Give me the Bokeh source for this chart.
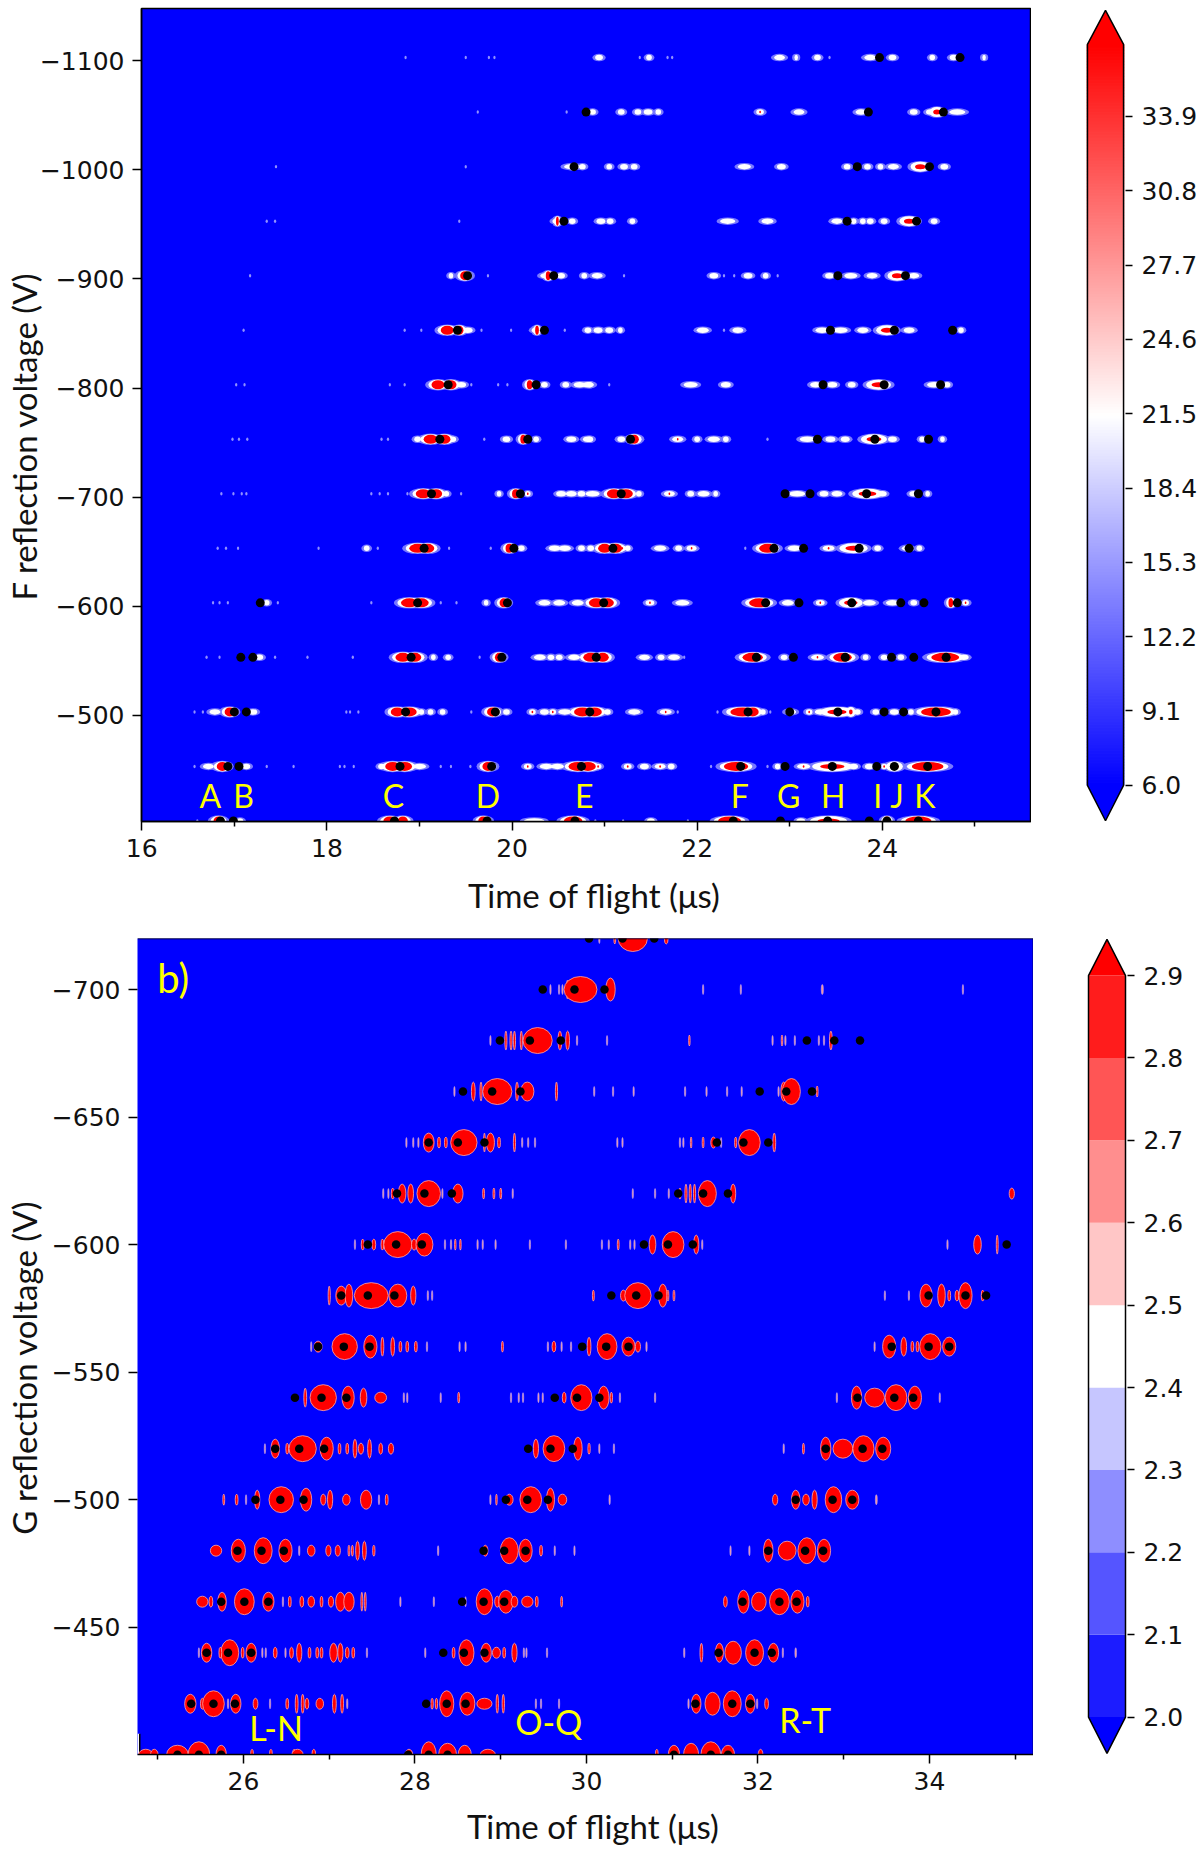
import numpy as np
from bokeh.plotting import figure
from bokeh.layouts import column, row
from bokeh.models import Range1d, FixedTicker, Label, Span
from bokeh.embed import file_html
from bokeh.resources import INLINE

# ---------- panel a: rows of peaks (time of flight, width, kind 3 red / 4 slim red / 2 white with red eye / 1 white)
rows_a = [-403,-453,-503,-553,-603,-653,-703,-753,-803,-853,-903,-953,-1003,-1053,-1103]
a403 = [(16.83,.11,3),(17.06,.05,1),(18.68,.14,3),(18.82,.11,3),(19.69,.11,3),(20.24,.18,1),(20.66,.2,3),(21.5,.06,1),(22.35,.25,3),(23.12,.07,1),(23.42,.3,4),(24.05,.07,3),(24.39,.28,3)]
a453 = [(16.87,.12,3),(18.71,.16,3),(18.84,.16,3),(19.74,.12,3),(20.71,.2,3),(20.82,.17,3),(22.42,.26,3),(23.46,.33,4),(24.13,.12,4),(24.49,.34,3),
        (16.72,.09,1),(17.13,.06,1),(18.59,.05,1),(19.0,.11,1),(20.17,.06,2),(20.37,.11,1),(20.49,.11,1),(20.93,.05,2),(21.25,.06,2),(21.43,.07,1),(21.6,.09,2),(21.72,.05,1),(22.87,.04,1),(23.15,.11,2),(23.69,.07,1),(23.86,.07,1),(24.02,.04,2)]
a503 = [(16.95,.11,3),(18.76,.14,3),(18.89,.16,3),(19.79,.12,3),(20.76,.18,3),(20.89,.16,3),(22.49,.26,3),(22.6,.13,3),(23.51,.26,4),(23.66,.05,4),(24.58,.32,3),
        (16.79,.09,1),(17.2,.07,1),(19.02,.04,1),(19.12,.04,1),(19.25,.04,1),(19.94,.05,1),(20.22,.05,2),(20.35,.07,1),(20.44,.05,2),(20.57,.11,1),(21.03,.05,1),(21.32,.1,1),(21.66,.1,2),(22.71,.04,1),(23.01,.09,1),(23.21,.05,2),(23.33,.09,1),(23.73,.05,1),(23.93,.05,1),(24.13,.07,1),(24.31,.04,1),(24.79,.04,1)]
a553 = [(18.82,.16,3),(18.95,.14,3),(19.86,.09,3),(20.85,.16,3),(20.98,.13,3),(22.6,.22,3),(23.57,.2,3),(24.68,.3,3),
        (17.27,.06,1),(19.15,.03,1),(19.31,.04,1),(20.3,.1,1),(20.42,.05,1),(20.51,.05,1),(20.67,.1,1),(21.43,.09,1),(21.61,.05,1),(21.75,.1,1),(22.94,.05,1),(23.3,.11,2),(23.82,.04,1),(24.02,.05,1),(24.2,.05,1),(24.88,.08,1)]
a603 = [(18.89,.18,3),(19.02,.16,3),(19.91,.09,3),(20.91,.16,3),(21.03,.14,3),(22.67,.22,3),(23.66,.18,4),(24.74,.05,3),(24.9,.05,2),
        (17.35,.04,1),(19.72,.03,1),(20.35,.1,1),(20.51,.1,1),(20.71,.1,1),(21.49,.07,2),(21.84,.12,1),(22.98,.1,1),(23.33,.07,2),(23.86,.11,1),(24.11,.11,1),(24.34,.05,1)]
a653 = [(18.98,.18,3),(19.09,.14,3),(19.97,.08,3),(21.0,.14,3),(21.12,.14,3),(22.76,.18,3),(23.69,.22,4),
        (18.43,.04,1),(20.1,.05,1),(20.46,.1,1),(20.57,.1,1),(20.75,.05,1),(20.85,.05,1),(21.25,.04,1),(21.19,.06,2),(21.6,.1,1),(21.8,.05,1),(21.94,.08,2),(23.05,.11,1),(23.42,.1,2),(23.95,.05,1),(24.27,.09,1),(24.4,.04,1)]
a703 = [(19.04,.16,3),(19.18,.13,3),(20.04,.08,3),(21.1,.15,3),(21.23,.15,3),(23.84,.24,4),
        (19.29,.04,1),(19.86,.03,1),(20.17,.04,2),(20.53,.08,1),(20.64,.09,1),(20.75,.06,1),(20.87,.12,1),(21.37,.04,1),(21.7,.09,2),(21.93,.05,1),(22.07,.1,1),(22.2,.03,1),(23.08,.14,1),(23.37,.07,1),(23.51,.09,1),(24.0,.07,1),(24.34,.07,1),(24.49,.03,1)]
a753 = [(19.12,.15,3),(19.27,.13,3),(20.12,.06,3),(21.32,.1,3),(23.91,.2,4),
        (18.98,.05,1),(19.36,.05,1),(19.94,.06,1),(20.26,.04,1),(20.64,.08,1),(20.84,.05,1),(20.82,.08,1),(21.18,.06,1),(21.79,.09,2),(22.0,.04,1),(22.18,.1,1),(22.31,.04,1),(23.19,.13,1),(23.44,.08,1),(23.6,.07,1),(24.11,.07,1),(24.43,.04,1),(24.65,.03,1)]
a803 = [(19.2,.14,3),(19.34,.12,3),(20.19,.06,3),(23.96,.19,4),
        (19.45,.08,1),(20.35,.05,1),(20.58,.05,1),(20.73,.1,1),(20.84,.04,1),(20.82,.1,1),(21.93,.12,1),(22.31,.08,1),(23.28,.09,1),(23.46,.08,1),(23.67,.06,1),(24.56,.12,1),(24.7,.05,1)]
a853 = [(19.3,.14,3),(19.43,.09,3),(20.27,.04,3),(24.05,.16,4),
        (20.26,.07,1),(19.52,.08,1),(20.82,.05,1),(20.93,.07,1),(21.05,.06,1),(21.17,.03,1),(22.06,.1,1),(22.44,.09,1),(23.35,.11,1),(23.55,.12,1),(23.79,.09,1),(24.29,.09,1),(24.85,.04,1)]
a903 = [(19.49,.1,3),(20.39,.05,3),(24.16,.14,4),
        (19.34,.03,1),(20.37,.1,1),(20.53,.06,1),(20.78,.04,1),(20.92,.09,1),(22.18,.07,1),(22.55,.07,1),(22.74,.04,1),(23.43,.07,1),(23.66,.11,1),(23.89,.09,1),(24.34,.09,1)]
a953 = [(20.49,.03,3),(24.29,.14,4),
        (20.49,.08,1),(20.65,.05,1),(20.96,.07,1),(21.06,.05,1),(21.3,.04,1),(22.33,.13,1),(22.76,.1,1),(23.51,.09,1),(23.69,.04,1),(23.79,.04,1),(23.87,.05,1),(24.02,.05,1),(24.56,.05,1)]
a1003 = [(20.64,.02,2),(24.41,.14,4),
        (20.65,.14,1),(20.76,.05,1),(21.05,.04,1),(21.21,.06,1),(21.32,.05,1),(22.51,.11,1),(22.91,.07,1),(23.62,.05,1),(23.84,.05,1),(23.98,.04,1),(24.12,.09,1),(24.67,.06,1)]
a1053 = [(24.59,.1,4),
        (20.87,.05,1),(21.18,.05,1),(21.36,.05,1),(21.47,.07,1),(21.58,.04,1),(22.68,.06,2),(23.1,.09,1),(23.77,.09,1),(24.34,.06,1),(24.52,.07,1),(24.81,.14,1)]
a1103 = [(20.94,.06,1),(21.48,.04,1),(22.89,.09,1),(23.07,.02,1),(23.3,.05,1),(23.87,.1,1),(24.11,.06,1),(24.54,.04,1),(24.77,.06,1),(25.1,.02,1)]
peaks_a = [a403,a453,a503,a553,a603,a653,a703,a753,a803,a853,a903,a953,a1003,a1053,a1103]

faint_a = [
 [16.6,20.9,21.2,21.9],
 [16.57,16.65,17.35,17.64,18.14,18.19,18.29,19.23,19.34,19.55,22.15,22.76,24.74],
 [16.57,16.66,18.21,18.25,18.34,19.56,21.79,22.22,22.79],
 [16.7,16.84,17.44,17.79,18.28,19.65,21.86],
 [16.77,16.84,16.93,17.47,18.48,19.23,19.4],
 [16.82,16.91,17.04,17.91,18.55,19.32,19.77,22.52],
 [16.86,16.99,17.08,17.13,18.48,18.57,18.66,18.87,19.45,19.86],
 [16.98,17.05,17.14,18.59,18.66,19.7,22.76],
 [17.02,17.11,18.68,18.84,19.56,19.85,19.95,21.05],
 [17.1,18.84,19.02,19.67,19.99,20.57,22.29],
 [17.17,19.74,20.78,21.21,22.29,22.4,22.87],
 [17.35,17.44,19.43],
 [17.45,19.5],
 [19.63,20.59],
 [18.85,19.5,19.75,19.81,21.38,21.68,21.73,23.43],
]
dots_a = [
 [16.85,16.99,18.73,19.73,20.68,22.39,22.9,23.41,23.86,24.05,24.39],
 [16.93,17.05,18.79,19.78,20.75,22.47,22.95,23.46,23.94,24.13,24.49],
 [17.0,17.13,18.85,19.82,20.84,22.55,23.0,23.52,24.02,24.23,24.58],
 [17.07,17.2,18.91,19.89,20.91,22.64,23.04,23.6,24.1,24.34,24.69],
 [17.28,18.98,19.95,20.99,22.74,23.1,23.67,24.2,24.45,24.81],
 [19.05,20.02,21.09,22.83,23.15,23.75,24.29],
 [19.13,20.09,21.18,22.95,23.22,23.83,24.39],
 [19.22,20.17,21.28,23.3,23.92,24.5],
 [19.31,20.26,23.36,24.02,24.63],
 [19.41,20.35,23.44,24.13,24.76],
 [19.52,20.45,23.52,24.25],
 [20.56,23.62,24.37],
 [20.67,23.73,24.51],
 [20.8,23.85,24.66],
 [23.97,24.84],
]

# ---------- panel b: peaks (time of flight, width, height class 4 large ... 0 hairline)
rows_b = [-400,-420,-440,-460,-480,-500,-520,-540,-560,-580,-600,-620,-640,-660,-680,-700,-720]
H = .016
b400 = [(24.86,.15,1),(24.96,.08,1),(25.23,.23,2),(25.48,.23,4),(25.74,.11,2),(26.1,.03,1),(26.32,.03,1),(26.59,.03,1),(26.63,.12,1),(26.82,.04,1),(27.93,.08,1),(28.16,.16,4),(28.38,.19,3),(28.58,.14,2),(28.85,.16,1),(30.82,.03,1),(31.02,.12,2),(31.22,.16,3),(31.45,.21,4),(31.65,.14,2),(32.03,.05,1)]
b420 = [(25.38,.12,2),(25.52,.04,1),(25.65,.23,4),(25.91,.11,2),(25.82,H,0),(26.14,.05,1),(26.31,H,0),(26.51,.03,1),(26.62,.03,2),(26.69,.03,2),(26.74,.04,1),(26.89,.08,1),(27.06,.04,2),(27.15,.03,2),(27.21,H,0),(28.2,.025,1),(28.25,.025,1),(28.37,.15,4),(28.61,.16,3),(28.81,.16,1),(28.96,.025,2),(29.03,.025,2),(29.41,H,0),(29.47,H,0),(29.68,H,0),(31.19,H,0),(31.28,.1,2),(31.47,.16,3),(31.7,.19,4),(31.91,.1,2),(31.99,H,0),(32.1,.04,1)]
b440 = [(25.57,.11,2),(25.84,.19,4),(26.09,.11,2),(25.99,.03,1),(25.73,.03,1),(25.48,H,0),(26.22,H,0),(26.26,H,0),(26.37,.04,1),(26.49,H,0),(26.56,.04,1),(26.65,.055,2),(26.77,.03,1),(26.86,.03,1),(26.91,.03,1),(27.05,.08,2),(27.13,.055,2),(27.21,.04,1),(27.28,.03,1),(27.44,H,0),(28.12,H,0),(28.45,.03,1),(28.6,.16,4),(28.83,.11,2),(28.95,.085,1),(29.04,.03,1),(29.16,.055,2),(29.27,H,0),(29.3,H,0),(29.54,H,0),(31.14,H,0),(31.34,.03,2),(31.55,.085,2),(31.71,.175,3),(31.96,.19,4),(32.18,.11,2),(32.29,H,0),(32.44,.02,0)]
b460 = [(25.52,.12,1),(25.62,.04,1),(25.75,.09,2),(26.01,.21,4),(26.29,.12,2),(26.46,H,0),(26.54,.03,1),(26.68,.04,1),(26.79,.07,1),(26.91,.03,1),(27.02,.055,1),(27.13,.1,2),(27.23,.11,2),(27.38,.02,2),(27.42,.02,2),(27.83,H,0),(28.22,H,0),(28.59,H,0),(28.81,.175,4),(28.96,.055,1),(29.06,.155,3),(29.16,.07,1),(29.31,.12,1),(29.42,.03,1),(29.71,.02,1),(31.62,.04,1),(31.83,.12,3),(32.01,.155,2),(32.25,.21,4),(32.46,.14,3),(32.58,.03,1)]
b480 = [(25.68,.12,1),(25.94,.15,3),(26.23,.19,4),(26.49,.14,3),(26.65,H,0),(26.79,.08,1),(26.99,.055,1),(27.1,.055,1),(27.23,.02,1),(27.27,.02,1),(27.33,.04,2),(27.41,.04,2),(27.52,.025,1),(28.27,H,0),(28.82,.055,1),(29.1,.19,4),(29.29,.14,3),(29.47,.03,1),(29.63,H,0),(29.86,H,0),(31.68,H,0),(31.9,H,0),(32.12,.1,3),(32.34,.19,2),(32.57,.19,4),(32.77,.14,3)]
b500 = [(25.77,.02,1),(25.92,.03,1),(26.03,H,0),(26.16,.055,2),(26.44,.26,4),(26.73,.12,3),(26.93,.055,1),(27.01,.055,2),(27.2,.08,1),(27.43,.12,2),(27.67,.03,1),(27.58,H,0),(28.88,H,0),(28.95,H,1),(29.1,.08,1),(29.35,.23,4),(29.58,.085,3),(29.72,.09,1),(30.27,H,0),(32.2,.055,1),(32.44,.09,2),(32.56,.07,1),(32.66,.055,2),(32.88,.175,4),(33.1,.14,2),(33.38,.023,0)]
b520 = [(26.25,H,0),(26.37,.09,2),(26.51,.03,1),(26.69,.29,4),(26.97,.14,3),(27.12,.03,1),(27.21,.03,1),(27.3,.04,2),(27.37,.055,1),(27.47,.04,2),(27.6,.04,1),(27.72,.055,1),(29.41,.055,2),(29.62,.23,4),(29.9,.09,3),(30.03,.025,1),(30.15,H,0),(30.32,H,0),(32.3,H,0),(32.53,.02,1),(32.79,.11,3),(32.99,.21,2),(33.23,.225,4),(33.46,.16,3)]
b540 = [(26.72,.03,2),(26.93,.28,4),(27.22,.13,3),(27.4,.07,2),(27.6,.125,1),(27.87,H,0),(27.91,H,0),(28.3,H,0),(28.51,.02,1),(29.12,H,0),(29.21,H,0),(29.26,H,0),(29.44,H,0),(29.49,H,0),(29.74,.04,1),(29.94,.225,4),(30.2,.115,3),(30.29,.025,1),(30.39,H,0),(30.8,H,0),(32.92,H,0),(33.15,.11,3),(33.36,.21,2),(33.61,.23,4),(33.83,.14,3),(34.12,H,0)]
b560 = [(26.79,H,0),(26.87,.085,1),(27.18,.27,4),(27.48,.14,3),(27.62,.03,2),(27.74,.04,2),(27.83,.03,1),(27.91,.03,1),(28.01,.03,1),(28.14,H,0),(28.52,H,0),(28.59,H,0),(29.02,.02,1),(29.55,H,0),(29.62,.04,1),(29.71,H,0),(29.82,H,0),(30.03,.04,2),(30.24,.21,4),(30.49,.14,2),(30.6,.055,1),(30.7,H,0),(33.36,H,0),(33.53,.14,3),(33.7,.06,2),(33.8,.03,1),(33.86,.03,1),(34.01,.225,4),(34.23,.14,2)]
b580 = [(27.0,.023,2),(27.14,.115,2),(27.23,.08,3),(27.49,.36,4),(27.8,.19,3),(27.98,.055,2),(28.15,H,0),(28.2,H,0),(30.08,.02,1),(30.43,.06,1),(30.6,.28,4),(30.89,.09,3),(30.95,.02,1),(31.02,.02,1),(33.48,H,0),(33.76,H,0),(33.96,.13,3),(34.14,.08,3),(34.23,.03,1),(34.32,.04,1),(34.42,.14,4),(34.62,.03,1)]
b600 = [(27.3,H,0),(27.39,.03,1),(27.52,.04,1),(27.62,.03,1),(27.8,.3,4),(27.99,.055,1),(28.11,.18,3),(28.35,H,0),(28.42,H,0),(28.47,H,1),(28.53,H,1),(28.73,H,0),(28.79,H,0),(28.94,H,0),(29.34,H,0),(29.76,H,0),(30.18,H,0),(30.26,H,0),(30.37,.02,1),(30.51,H,0),(30.56,H,0),(30.77,.07,2),(31.01,.23,4),(31.28,.055,2),(31.35,H,0),(34.21,H,0),(34.56,.08,2),(34.79,.02,2)]
b620 = [(27.63,H,0),(27.69,H,0),(27.74,.03,1),(27.85,.08,2),(27.95,.06,2),(28.16,.25,4),(28.5,.11,2),(28.32,H,0),(28.8,.02,1),(28.92,.02,1),(29.0,.02,1),(29.14,H,0),(30.54,H,0),(30.8,H,0),(30.96,H,0),(31.09,.02,1),(31.16,.023,2),(31.21,.023,2),(31.26,.023,2),(31.41,.19,4),(31.71,.055,2),(34.96,.055,1)]
b640 = [(27.9,H,0),(27.98,H,0),(28.04,H,0),(28.16,.115,2),(28.28,.03,1),(28.36,.03,1),(28.57,.28,4),(28.81,.02,2),(28.88,.085,2),(28.98,.03,1),(29.16,.023,2),(29.25,H,0),(29.32,H,0),(29.4,H,0),(30.36,H,0),(30.42,H,0),(31.09,H,0),(31.13,H,0),(31.22,.016,1),(31.36,.02,1),(31.48,.055,1),(31.57,H,0),(31.74,.023,1),(31.9,.23,4),(32.19,.03,2)]
b660 = [(28.46,H,0),(28.68,.04,2),(28.77,.023,2),(28.96,.31,4),(29.19,.03,2),(29.31,.14,2),(29.65,.023,2),(30.09,H,0),(30.31,H,0),(30.55,H,0),(31.15,H,0),(31.4,H,0),(31.64,H,0),(31.81,H,0),(32.24,H,0),(32.3,.06,2),(32.39,.19,4),(32.69,.02,1)]
b680 = [(28.88,H,0),(29.06,.023,2),(29.12,.023,2),(29.16,.023,2),(29.24,.023,2),(29.43,.31,4),(29.69,.04,2),(29.78,.04,2),(29.89,H,0),(30.24,H,0),(31.2,.016,1),(32.17,H,0),(32.28,.016,1),(32.32,H,0),(32.43,H,0),(32.71,H,0),(32.77,H,0),(32.85,.03,2)]
b700 = [(29.58,H,0),(29.68,H,0),(29.72,H,0),(29.78,.03,2),(29.93,.35,4),(30.28,.1,3),(31.36,H,0),(31.8,H,0),(32.75,.025,0),(34.39,H,0)]
b720 = [(30.15,H,0),(30.33,.02,1),(30.54,.31,4),(30.93,.04,1)]
peaks_b = [b400,b420,b440,b460,b480,b500,b520,b540,b560,b580,b600,b620,b640,b660,b680,b700,b720]

dots_b = [
 [25.23,25.48,25.74,27.92,28.16,28.38,31.02,31.45,31.65],
 [25.39,25.65,25.9,28.13,28.37,28.59,31.27,31.7,31.91],
 [25.57,25.82,26.09,28.33,28.57,28.81,31.54,31.96,32.16],
 [25.74,26.01,26.29,28.55,28.8,29.04,31.82,32.25,32.45],
 [25.93,26.21,26.47,28.8,29.04,29.29,32.12,32.55,32.76],
 [26.14,26.43,26.7,29.06,29.31,29.55,32.44,32.87,33.1],
 [26.37,26.65,26.94,29.32,29.58,29.84,32.79,33.22,33.45],
 [26.6,26.91,27.2,29.63,29.89,30.15,33.16,33.59,33.81],
 [26.87,27.17,27.47,29.95,30.23,30.49,33.56,33.99,34.23],
 [27.14,27.45,27.76,30.29,30.58,30.84,33.99,34.42,34.66],
 [27.45,27.78,28.08,30.67,30.95,31.24,34.9],
 [27.79,28.11,28.43,31.07,31.36,31.65],
 [28.16,28.5,28.81,31.52,31.83,32.12],
 [28.56,28.9,29.23,32.02,32.33,32.63],
 [28.99,29.34,29.7,32.57,32.89,33.19],
 [29.49,29.86,30.21],
 [30.03,30.42,30.79],
]

# ---------- ticks, labels
x_ticks_a = [16,18,20,22,24]; x_minor_a = [17,19,21,23,25]
y_ticks_a = [-1100,-1000,-900,-800,-700,-600,-500]
x_ticks_b = [26,28,30,32,34]; x_minor_b = [25,27,29,31,33,35]
y_ticks_b = [-700,-650,-600,-550,-500,-450,-400]
cbar_a_ticks = [6.0,9.1,12.2,15.3,18.4,21.5,24.6,27.7,30.8,33.9]
cbar_b_ticks = [2.0,2.1,2.2,2.3,2.4,2.5,2.6,2.7,2.8,2.9]
cbar_b_colors = ["#1c1cff","#5555ff","#8e8eff","#c6c6ff","#ffffff","#ffc6c6","#ff8e8e","#ff5555","#ff1c1c"]
peak_names = ["A","B","C","D","E","F","G","H","I","J","K"]
peak_x = [16.74,17.10,18.72,19.74,20.78,22.46,22.99,23.47,23.95,24.16,24.46]
group_names = ["L-N","O-Q","R-T"]
group_x = [26.38,29.56,32.55]
group_y = [-410.6,-413,-413.7]
xlabel = "Time of flight (\u03bcs)"
ylabel_a = "F reflection voltage (V)"
ylabel_b = "G reflection voltage (V)"

BLUE="#0000ff"; RED="#ff0000"; YEL="#ffff00"; TICK_FONT="DejaVu Sans"; LAB_FONT="Lato"
NB = "\u00a0"

def style_axes(p, xt, xm, yt, xlab, ylab, ystand, xstand):
    p.xaxis.ticker = FixedTicker(ticks=xt, minor_ticks=xm)
    p.yaxis.ticker = FixedTicker(ticks=yt)
    p.yaxis.major_label_overrides = {v: "\u2212%d" % abs(v) for v in yt}
    p.xaxis.major_label_overrides = {v: str(v) for v in xt}
    for ax in (p.xaxis[0], p.yaxis[0]):
        ax.major_label_text_font = TICK_FONT
        ax.major_label_text_font_size = "25px"
        ax.major_label_text_color = "#111111"
        ax.major_tick_out = 9; ax.major_tick_in = 0
        ax.major_tick_line_width = 1.5; ax.major_tick_line_color = "black"
        ax.axis_line_width = 1.5; ax.axis_line_color = "black"
        ax.major_label_standoff = 8
        ax.axis_label_text_font = LAB_FONT
        ax.axis_label_text_font_size = "33px"
        ax.axis_label_text_font_style = "normal"
        ax.axis_label_text_color = "#111111"
    p.xaxis.axis_label = NB*2 + xlab
    p.yaxis.axis_label = ylab + NB*5
    p.yaxis.axis_label_standoff = ystand
    p.xaxis.axis_label_standoff = xstand
    p.xaxis.minor_tick_out = 5; p.xaxis.minor_tick_in = 0
    p.xaxis.minor_tick_line_width = 1.5; p.xaxis.minor_tick_line_color = "black"
    p.yaxis.minor_tick_line_color = None
    p.grid.visible = False
    p.background_fill_color = BLUE

def lab(p, x, y, text, size, color=YEL):
    p.add_layout(Label(x=x, y=y, text=text, text_font=LAB_FONT, text_font_size=size, text_color=color,
                       text_align="center", text_baseline="middle"))

# ---------- panel a
pa = figure(width=1031, height=925, output_backend="svg", toolbar_location=None,
            x_range=Range1d(15.997, 25.612), y_range=Range1d(-402.5, -1148),
            min_border_left=140, min_border_right=0, min_border_top=8, min_border_bottom=104)
style_axes(pa, x_ticks_a, x_minor_a, y_ticks_a, xlabel, ylabel_a, -7, 15)
pa.outline_line_color = "black"; pa.outline_line_width = 1.5

fx,fy=[],[]
for v,ts in zip(rows_a, faint_a):
    fx += ts; fy += [v]*len(ts)
pa.ellipse(fx, fy, width=.025, height=3.5, height_units="screen", fill_color="#9090ff", line_color=None)

def collect(kinds):
    xs,ys,ws=[],[],[]
    for v,pk in zip(rows_a, peaks_a):
        for t,w,k in pk:
            if k in kinds:
                xs.append(t); ys.append(v); ws.append(w)
    return xs,ys,ws

x,y,w = collect((1,2))
pa.ellipse(x, y, width=[i*1.4+.06 for i in w], height=7.5, height_units="screen", fill_color="#7878ff", line_color=None)
x,y,w = collect((3,4))
pa.ellipse(x, y, width=[i*1.4+.08 for i in w], height=11.5, height_units="screen", fill_color="#7878ff", line_color=None)
x,y,w = collect((1,2))
pa.ellipse(x, y, width=[i*1.15+.015 for i in w], height=5.5, height_units="screen", fill_color="#ffffff", line_color=None)
x,y,w = collect((3,4))
pa.ellipse(x, y, width=[i*1.2+.04 for i in w], height=10, height_units="screen", fill_color="#ffffff", line_color=None)
x,y,w = collect((2,))
pa.ellipse(x, y, width=.018, height=2.5, height_units="screen", fill_color=RED, line_color=None)
x,y,w = collect((4,))
pa.ellipse(x, y, width=[i*.8 for i in w], height=5, height_units="screen", fill_color=RED, line_color=None)
x,y,w = collect((3,))
pa.ellipse(x, y, width=w, height=9, height_units="screen", fill_color=RED, line_color=None)

dx,dy=[],[]
for v,ts in zip(rows_a, dots_a):
    dx += ts; dy += [v]*len(ts)
pa.scatter(dx, dy, size=9, marker="circle", fill_color="black", line_color=None)
for n,t in zip(peak_names, peak_x):
    lab(pa, t, -426, n, "32px")

# ---------- panel b
pb = figure(width=1033, height=927, output_backend="svg", toolbar_location=None,
            x_range=Range1d(24.764, 35.213), y_range=Range1d(-400.1, -720),
            min_border_left=137, min_border_right=0, min_border_top=13, min_border_bottom=98)
style_axes(pb, x_ticks_b, x_minor_b, y_ticks_b, xlabel, ylabel_b, 5, 13)
pb.yaxis.axis_line_color = None
pb.outline_line_color = None
pb.add_layout(Span(location=-720, dimension="width", line_color="black", line_width=1.5))
pb.add_layout(Span(location=35.213, dimension="height", line_color="black", line_width=1.5))
pb.quad(left=24.764, right=24.79, bottom=-400.1, top=-408.2, fill_color="white", line_color=None)
pb.segment(x0=24.79, y0=-400.1, x1=24.79, y1=-408.2, line_color="black", line_width=1.5)

HEIGHT = {4: 26, 3: 23, 2: 19, 1: 11, 0: 10}
bx,by,bw,bh,bx0,by0,bw0,bh0 = [],[],[],[],[],[],[],[]
for v,pk in zip(rows_b, peaks_b):
    for t,w,k in pk:
        if k == 0:
            bx0.append(t); by0.append(v); bw0.append(w); bh0.append(HEIGHT[k])
        else:
            bx.append(t); by.append(v); bw.append(w*1.1); bh.append(HEIGHT[k])
pb.ellipse(bx0, by0, width=bw0, height=bh0, height_units="screen", fill_color="#ff9090", line_color="#b0a0ff", line_width=0.6)
pb.ellipse(bx, by, width=bw, height=bh, height_units="screen", fill_color=RED, line_color="#ffa8a8", line_width=0.8)
dx,dy=[],[]
for v,ts in zip(rows_b, dots_b):
    dx += ts; dy += [v]*len(ts)
pb.scatter(dx, dy, size=8.5, marker="circle", fill_color="black", line_color=None)
for n,t,v in zip(group_names, group_x, group_y):
    lab(pb, t, v, n, "34px")
lab(pb, 25.18, -704.7, "b)", "40px")

# ---------- colour bars
def cbar(width, height, left, right, top, bottom, ymin, ymax, ticks):
    c = figure(width=width, height=height, output_backend="svg", toolbar_location=None,
               x_range=Range1d(-2/37, 1+2/37), y_range=Range1d(ymin, ymax),
               y_axis_location="right", x_axis_location=None,
               min_border_left=left, min_border_right=right, min_border_top=top, min_border_bottom=bottom)
    c.grid.visible = False
    c.outline_line_color = None
    ax = c.yaxis[0]
    ax.ticker = FixedTicker(ticks=ticks)
    ax.major_label_overrides = {t: "%.1f" % t for t in ticks}
    ax.major_label_text_font = TICK_FONT
    ax.major_label_text_font_size = "25px"
    ax.major_label_text_color = "#111111"
    ax.major_tick_out = 7; ax.major_tick_in = 0
    ax.major_tick_line_width = 1.5; ax.major_tick_line_color = "black"
    ax.minor_tick_line_color = None
    ax.axis_line_color = None
    ax.major_label_standoff = 9
    return c

def tips(c, lo, hi, vlo, vhi):
    c.patch([0,.5,1], [lo,vlo,lo], fill_color=BLUE, line_color=None)
    c.patch([0,.5,1], [hi,vhi,hi], fill_color=RED, line_color=None)
    c.patch([0,.5,1,1,.5,0], [lo,vlo,lo,hi,vhi,hi], fill_color=None, line_color="black", line_width=1.5)

ca = cbar(169, 925, 54, 74, 8, 104, 4.49, 38.4, cbar_a_ticks)
lo, hi = 6.0, 36.9
n = 256
edges = np.linspace(lo, hi, n+1)
cols = []
for k in range(n):
    f = (k+.5)/n
    if f < .5:
        g = int(round(510*f)); cols.append("#%02x%02xff" % (g,g))
    else:
        g = int(round(510*(1-f))); cols.append("#ff%02x%02x" % (g,g))
ca.quad(left=0, right=1, bottom=edges[:-1], top=edges[1:], fill_color=cols, line_color=cols, line_width=1.5)
tips(ca, lo, hi, 4.52, 38.32)

cb = cbar(167, 927, 53, 73, 13, 98, 1.9546, 2.945, cbar_b_ticks)
cb.quad(left=0, right=1, bottom=cbar_b_ticks[:-1], top=cbar_b_ticks[1:], fill_color=cbar_b_colors, line_color=None)
tips(cb, 2.0, 2.9, 1.956, 2.944)

page = column(row(pa, ca), row(pb, cb), spacing=0)
open("out.html", "w").write(file_html(page, INLINE))
